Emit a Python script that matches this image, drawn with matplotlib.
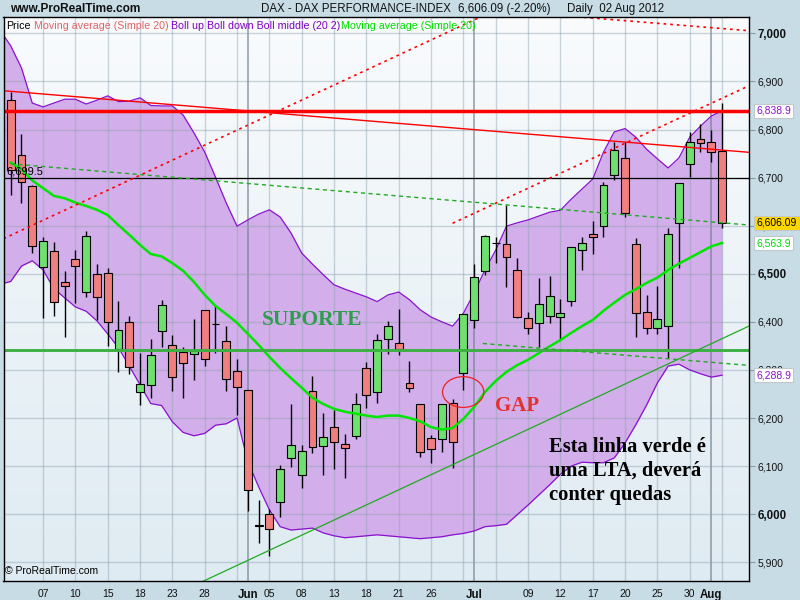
import numpy as np
import matplotlib.pyplot as plt
from matplotlib.colors import LinearSegmentedColormap
from matplotlib.patches import Ellipse
import matplotlib.transforms as mtransforms

plt.rcParams['font.family'] = ['Liberation Sans', 'DejaVu Sans']

# ---------- DAX daily candles, 02 May 2012 -> 02 Aug 2012 ----------
opens = [6861, 6748, 6682, 6515, 6547, 6482, 6531, 6463, 6499, 6501,
         6344, 6399, 6254, 6268, 6380, 6351, 6337, 6333, 6424, 6396,
         6360, 6298, 6258, 5977, 6000, 6026, 6116, 6081, 6256, 6141,
         6182, 6146, 6163, 6304, 6254, 6364, 6355, 6273, 6229, 6158,
         6156, 6231, 6294, 6403, 6506, 6564, 6561, 6507, 6407, 6397,
         6412, 6410, 6444, 6549, 6582, 6600, 6705, 6740, 6561, 6420,
         6387, 6392, 6605, 6728, 6780, 6775, 6755]
highs = [6877, 6790, 6684, 6577, 6567, 6506, 6550, 6589, 6520, 6511,
         6443, 6412, 6336, 6364, 6446, 6373, 6348, 6406, 6424, 6435,
         6391, 6323, 6258, 6030, 6010, 6102, 6229, 6144, 6287, 6211,
         6217, 6167, 6252, 6316, 6375, 6402, 6427, 6319, 6229, 6165,
         6229, 6240, 6416, 6520, 6580, 6577, 6642, 6533, 6420, 6491,
         6495, 6448, 6555, 6577, 6610, 6691, 6773, 6773, 6574, 6456,
         6475, 6595, 6688, 6794, 6811, 6799, 6856]
lows = [6664, 6647, 6543, 6409, 6413, 6368, 6439, 6452, 6403, 6350,
        6296, 6292, 6227, 6242, 6348, 6257, 6242, 6278, 6309, 6335,
        6257, 6206, 6007, 5941, 5914, 5995, 6098, 6054, 6128, 6082,
        6094, 6076, 6157, 6220, 6232, 6333, 6330, 6255, 6118, 6107,
        6130, 6095, 6258, 6388, 6498, 6523, 6473, 6409, 6374, 6348,
        6398, 6364, 6433, 6508, 6542, 6577, 6695, 6619, 6369, 6375,
        6374, 6324, 6513, 6702, 6754, 6732, 6595]
closes = [6715, 6691, 6558, 6568, 6442, 6474, 6517, 6578, 6451, 6399,
          6383, 6307, 6270, 6331, 6435, 6285, 6314, 6340, 6322, 6395,
          6281, 6264, 6050, 5976, 5969, 6094, 6143, 6131, 6139, 6160,
          6151, 6137, 6229, 6247, 6362, 6391, 6343, 6262, 6130, 6135,
          6229, 6150, 6416, 6494, 6578, 6563, 6535, 6410, 6387, 6437,
          6453, 6418, 6555, 6565, 6576, 6684, 6757, 6627, 6418, 6388,
          6405, 6582, 6688, 6773, 6771, 6753, 6606.09]

# Bollinger (20, 2) and simple MA 20
boll_up = [6974, 6928, 6855, 6847, 6855, 6863, 6863, 6853, 6861, 6870,
           6858, 6859, 6866, 6850, 6849, 6849, 6830, 6793, 6753, 6701,
           6647, 6599, 6612, 6624, 6633, 6618, 6585, 6543, 6520, 6498,
           6477, 6468, 6460, 6452, 6442, 6456, 6462, 6446, 6425, 6410,
           6400, 6391, 6418, 6460, 6508, 6549, 6599, 6606, 6612, 6620,
           6628, 6632, 6655, 6676, 6697, 6753, 6795, 6802, 6784, 6759,
           6739, 6720, 6741, 6784, 6807, 6828, 6838.9]
boll_down = [6484, 6516, 6527, 6508, 6469, 6450, 6431, 6422, 6402, 6375,
             6346, 6308, 6269, 6230, 6226, 6192, 6170, 6163, 6168, 6185,
             6188, 6200, 6109, 6057, 6009, 5974, 5967, 5969, 5971, 5961,
             5955, 5951, 5953, 5955, 5957, 5955, 5953, 5951, 5949, 5951,
             5953, 5957, 5960, 5965, 5974, 5976, 5979, 5999, 6019, 6040,
             6061, 6083, 6100, 6108, 6107, 6107, 6117, 6148, 6186, 6227,
             6273, 6308, 6312, 6300, 6292, 6285, 6288.9]
boll_edge = (6996, 6480)  # band at the left border of the chart (up, down)
ma20 = [6731, 6718, 6694, 6678, 6662, 6657, 6648, 6641, 6633, 6622,
        6601, 6581, 6560, 6541, 6536, 6522, 6506, 6483, 6456, 6433,
        6416, 6398, 6375, 6352, 6327, 6304, 6283, 6263, 6242, 6229,
        6219, 6213, 6209, 6205, 6202, 6205, 6205, 6200, 6193, 6181,
        6176, 6179, 6198, 6223, 6254, 6277, 6296, 6310, 6321, 6335,
        6349, 6362, 6377, 6391, 6404, 6423, 6440, 6456, 6468, 6481,
        6492, 6508, 6521, 6533, 6545, 6557, 6563.9]

# x labels (candle index -> label), month starts drawn darker
tick_pos = [3, 6, 9, 12, 15, 18, 22, 24, 27, 30, 33, 36, 39, 43, 48, 51, 54, 57, 60, 63, 65]
tick_lab = ['07', '10', '15', '18', '23', '28', 'Jun', '05', '08', '13', '18', '21', '26',
            'Jul', '09', '12', '17', '20', '25', '30', 'Aug']
month_starts = [22, 43, 65]

# hand drawn lines: two anchor points (candle index, price)
resist_level = 6838.9
support_level = 6342
mid_level = 6699.5
red_down = [(0, 6879.4), (66, 6757.2)]
red_down_top = [(55, 7030), (66, 7010)]
red_up_low = [(0, 6580), (36, 6955)]
red_up_high = [(41, 6605), (66, 6865)]
green_dash_up = [(0, 6728.6), (66, 6606)]
green_dash_low = [(43.8, 6355), (66, 6314)]
lta = [(18, 5862), (66, 6365)]

n = len(closes)
idx = np.arange(n)
o, h, l, c = map(np.array, (opens, highs, lows, closes))

fig = plt.figure(figsize=(8, 6), dpi=100, facecolor='#c8dce6')
ax = fig.add_axes([3.5 / 800, 19 / 600, 745.5 / 800, 564 / 600])
x_left, x_right = -0.67, 68.5
y_bot, y_top = 5861, 7034

# ---------- background ----------
bg = LinearSegmentedColormap.from_list('bg', ['#f9fbfd', '#dfebf2'])
ax.imshow(np.linspace(0, 1, 200).reshape(-1, 1), cmap=bg, aspect='auto',
          extent=[x_left, x_right, y_bot, y_top], zorder=0)

# ---------- bollinger band ----------
xb = np.r_[x_left, idx]
upb = np.r_[boll_edge[0], boll_up]
lob = np.r_[boll_edge[1], boll_down]
ax.fill_between(xb, lob, upb, color='#d2aeea', lw=0, zorder=1)
ax.plot(xb, upb, color='#8a10d0', lw=0.9, zorder=3)
ax.plot(xb, lob, color='#8a10d0', lw=0.9, zorder=3)

# ---------- grid ----------
for i in range(3, n, 3):
    ax.axvline(i, color='#8ea3b0', lw=1, alpha=0.45, zorder=2)
for m in month_starts:
    ax.axvline(m, color='#6c7c8c', lw=1.1, alpha=0.75, zorder=2)
for p in range(5900, 7001, 100):
    ax.axhline(p, color='#8ea3b0', lw=1, alpha=0.45, zorder=2)

# ---------- candles ----------
up = c >= o
ax.vlines(idx, l, h, color='black', lw=1, zorder=4)
body = np.maximum(np.abs(c - o), 0.6)
ax.bar(idx, body, bottom=np.minimum(o, c), width=0.74,
       color=np.where(up, '#6ee06e', '#f08080'), edgecolor='black', lw=0.8, zorder=4.5)

# ---------- moving average ----------
ax.plot(idx, ma20, color='#00e600', lw=1.8, zorder=5.5)


# ---------- drawn lines ----------
def seg(pts, x0, x1):
    (xa, ya), (xb_, yb) = pts
    k = (yb - ya) / (xb_ - xa)
    return [x0, x1], [ya + k * (x0 - xa), ya + k * (x1 - xa)]


dotted = (0, (1.6, 2.4))
dashed = (0, (3, 2.5))
ax.axhline(resist_level, color='#ff0000', lw=2.5, zorder=6)
ax.axhline(mid_level, color='black', lw=0.9, zorder=6)
ax.axhline(support_level, color='#3cb043', lw=2.1, zorder=6)
ax.plot(*seg(red_down, x_left, x_right), color='#ff0000', lw=1, zorder=6)
ax.plot(*seg(red_down_top, x_left, x_right), color='#ff0000', lw=1.2, ls=dotted, zorder=6)
ax.plot(*seg(red_up_low, x_left, x_right), color='#ff0000', lw=1.2, ls=dotted, zorder=6)
ax.plot(*seg(red_up_high, red_up_high[0][0], x_right), color='#ff0000', lw=1.2, ls=dotted, zorder=6)
ax.plot(*seg(green_dash_up, 0, x_right), color='#22aa22', lw=1, ls=dashed, zorder=6)
ax.plot(*seg(green_dash_low, green_dash_low[0][0], x_right), color='#22aa22', lw=1, ls=dashed, zorder=6)
ax.plot(*seg(lta, x_left, x_right), color='#22aa22', lw=0.9, zorder=6)

ax.add_patch(Ellipse((41.98, 6254), 3.83, 64, fill=False, ec='#ee2222', lw=0.9, zorder=7))

# ---------- annotations ----------
ax.text(27.95, 6404, 'SUPORTE', color='#2e9e4e', fontsize=15.5, fontweight='bold',
        family='Liberation Serif', ha='center', va='center', zorder=8)
ax.text(47.0, 6225, 'GAP', color='#e53030', fontsize=15, fontweight='bold',
        family='Liberation Serif', ha='center', va='center', zorder=8)
ax.text(49.9, 6160, 'Esta linha verde é\numa LTA, deverá\nconter quedas', color='black',
        fontsize=14.8, fontweight='bold', family='Liberation Serif', ha='left', va='top',
        linespacing=1.25, zorder=8)
ax.text(-0.44, mid_level + 2, f'{mid_level:,.1f}', fontsize=8, ha='left', va='bottom', zorder=8)
ax.text(0.002, 0.008, '© ProRealTime.com', transform=ax.transAxes, fontsize=7.5,
        ha='left', va='bottom', zorder=8)

# ---------- axes ----------
ax.set_xlim(x_left, x_right)
ax.set_ylim(y_bot, y_top)
for s in ax.spines.values():
    s.set_color('black')
    s.set_linewidth(1)
    s.set_zorder(9)

ax.yaxis.tick_right()
yt = list(range(5900, 7001, 100))
ax.set_yticks(yt, [f'{v:,}' for v in yt])
ax.tick_params(axis='y', direction='out', length=4, color='#8a9aa5', pad=2,
               labelsize=7.5, labelcolor='#111111')
for v, t in zip(yt, ax.get_yticklabels()):
    if v % 500 == 0:
        t.set_fontweight('bold')
        t.set_fontsize(8.3)

ax.set_xticks(tick_pos, tick_lab)
ax.tick_params(axis='x', length=0, pad=6, labelsize=7.5, labelcolor='#111111')
for t in ax.get_xticklabels():
    if t.get_text() in ('Jun', 'Jul', 'Aug'):
        t.set_fontweight('bold')
        t.set_fontsize(8.3)

# value boxes on the price scale
trans = mtransforms.blended_transform_factory(ax.transAxes, ax.transData)
boxes = [(boll_up[-1], f'{boll_up[-1]:,.1f}', '#8a10d0', 'white'),
         (closes[-1], f'{closes[-1]:,.2f}', 'black', '#ffd700'),
         (ma20[-1], f'{ma20[-1]:,.1f}', '#00dd00', 'white'),
         (boll_down[-1], f'{boll_down[-1]:,.1f}', '#8a10d0', 'white')]
for val, txt, fc, bc in boxes:
    ax.text(1.0095, val, txt, transform=trans, color=fc, fontsize=7.5, ha='left', va='center',
            bbox=dict(boxstyle='square,pad=0.2', fc=bc, ec='#c0c8cc', lw=0.8), clip_on=False, zorder=10)


# ---------- header and legend row ----------
def px(x, y):
    return x / 800, 1 - y / 600


fig.text(*px(10, 9), 'www.ProRealTime.com', fontsize=8.6, fontweight='bold', va='center', color='#111111')
fig.text(*px(261, 9), 'DAX - DAX PERFORMANCE-INDEX', fontsize=8.3, va='center', color='#111111')
fig.text(*px(458, 9), '6,606.09 (-2.20%)', fontsize=8.3, va='center', color='#111111')
fig.text(*px(567, 9), 'Daily  02 Aug 2012', fontsize=8.3, va='center', color='#111111')

legend_parts = [(6, 'Price', 'black'),
                (34, 'Moving average (Simple 20)', '#e06464'),
                (171, 'Boll up Boll down Boll middle (20 2)', '#8000c0'),
                (341, 'Moving average (Simple 20)', '#00dd00')]
for x, txt, col in legend_parts:
    fig.text(*px(x, 26), txt, fontsize=7.7, color=col, va='center', zorder=10)

fig.savefig('out.png', dpi=100, facecolor=fig.get_facecolor())
